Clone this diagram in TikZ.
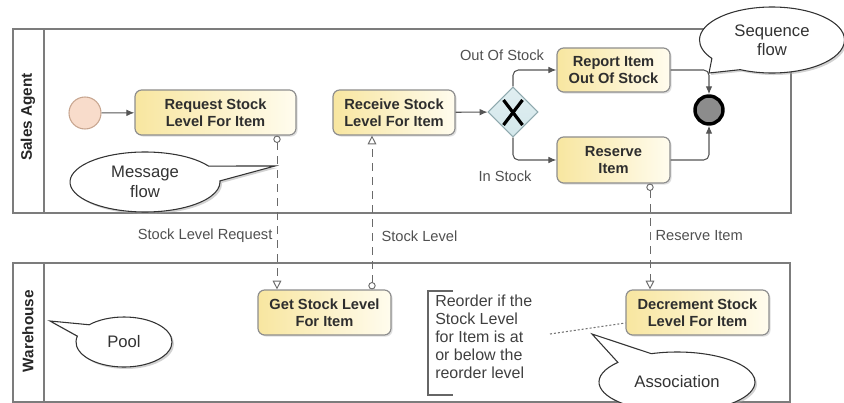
\documentclass[tikz,border=0pt]{standalone}
\usepackage{fontspec}
\setmainfont{Liberation Sans}
\usetikzlibrary{arrows.meta,shapes.geometric,shapes.callouts,shadows,calc}

\definecolor{poolline}{HTML}{7C7C7C}
\definecolor{taskline}{HTML}{8E8E8E}
\definecolor{taskyel}{HTML}{F8E6A0}
\definecolor{taskwht}{HTML}{FFFCEE}
\definecolor{flowgray}{HTML}{555555}
\definecolor{msggray}{HTML}{6A6A6A}
\definecolor{labelgray}{HTML}{505050}
\definecolor{startfill}{HTML}{F8DCCB}
\definecolor{startline}{HTML}{C8A690}
\definecolor{gwfill}{HTML}{D3E7EB}
\definecolor{gwline}{HTML}{8FA9AE}
\definecolor{endfill}{HTML}{8C8C8C}

\tikzset{
  sz/.style 2 args={minimum width=#1*0.75pt, minimum height=#2*0.75pt},
  pool/.style={draw=poolline, line width=1.6pt},
  poollabel/.style={rotate=90, font=\fontsize{11.5}{13}\selectfont\bfseries, text=black!85},
  task/.style={draw=taskline, line width=0.9pt, rounded corners=5pt,
    left color=taskyel, right color=taskwht, align=center, inner sep=2pt,
    font=\fontsize{11}{12.75}\selectfont\bfseries, text=black!82,
    drop shadow={shadow xshift=1.2pt, shadow yshift=-1.2pt, fill=black!25}},
  seqflow/.style={draw=flowgray, line width=0.8pt, rounded corners=4pt,
    -{Latex[length=6pt,width=5pt]}},
  msgflow/.style={draw=msggray, line width=0.6pt, dash pattern=on 6pt off 4.5pt,
    {Circle[open,length=5.5pt,width=5.5pt,fill=white,line width=0.7pt]}-{Triangle[open,length=6.5pt,width=6.5pt,fill=white,line width=0.7pt]}},
  flowlabel/.style={font=\fontsize{11}{13}\selectfont, text=labelgray, inner sep=1pt},
  bubble/.style={ellipse callout, draw=black!80, line width=0.8pt, fill=white,
    callout pointer arc=30, align=center, inner sep=0pt,
    font=\fontsize{12.5}{14.5}\selectfont, text=black!80,
    drop shadow={shadow xshift=1.5pt, shadow yshift=-1.5pt, fill=black!35}},
}

\begin{document}
\begin{tikzpicture}[x=0.75pt, y=-0.75pt]
\useasboundingbox (0,0) rectangle (844,403);

% ---- pools ----
\draw[pool] (13,29) rectangle (791,213);
\draw[pool] (44,29) -- (44,213);
\node[poollabel] (salesagent) at (28,117) {Sales Agent};

\draw[pool] (13,263) rectangle (790,402);
\draw[pool] (44,263) -- (44,402);
\node[poollabel] (warehouse) at (28,331) {Warehouse};

% ---- Sales Agent process ----
\node[circle, draw=startline, line width=0.8pt, fill=startfill, minimum size=24pt, inner sep=0pt]
  (start) at (85,113) {};
\node[task, sz={161}{45}] (req) at (215.5,112.5) {Request Stock\\Level For Item};
\node[task, sz={122}{45}] (rec) at (394,112.5) {Receive Stock\\Level For Item};
\node[diamond, draw=gwline, line width=0.8pt, inner sep=0pt, sz={50}{50},
  top color=gwfill!70!white, bottom color=gwfill] (gw) at (513,112) {};
\draw[line width=2.4pt, black] (503.5,100) -- (522.5,125) (522.5,100) -- (503.5,125);
\node[task, sz={113}{44}] (report) at (613.5,70) {Report Item\\Out Of Stock};
\node[task, sz={113}{46}] (reserve) at (613.5,160) {Reserve\\Item};
\node[circle, draw=black, line width=2.6pt, fill=endfill, minimum size=21pt, inner sep=0pt]
  (end) at (709,110) {};

\draw[seqflow] (start) -- (req);
\draw[seqflow] (rec) -- (gw);
\draw[seqflow] (gw.north) |- (report.west);
\draw[seqflow] (gw.south) |- (reserve.west);
\draw[seqflow] (report.east) -| (end.north);
\draw[seqflow] (reserve.east) -| (end.south);

\node[flowlabel, anchor=south] (outlbl) at (502,62) {Out Of Stock};
\node[flowlabel, anchor=north] (inlbl) at (505,169) {In Stock};

% ---- Warehouse process ----
\node[task, sz={133}{45}] (get) at (324.5,312.5) {Get Stock Level\\For Item};
\node[task, sz={143}{45}] (dec) at (697.5,312.5) {Decrement Stock\\Level For Item};

% ---- message flows ----
\coordinate (m1) at (277,0);
\coordinate (m2) at (372,0);
\coordinate (m3) at (650,0);
\draw[msgflow] (req.south -| m1) -- (get.north -| m1);
\draw[msgflow] (get.north -| m2) -- (rec.south -| m2);
\draw[msgflow] (reserve.south -| m3) -- (dec.north -| m3);

\node[flowlabel, anchor=east] (lblreq) at (274,236) {Stock Level Request};
\node[flowlabel, anchor=west] (lbllevel) at (380,236) {Stock Level};
\node[flowlabel, anchor=west] (lblres) at (654,236) {Reserve Item};

% ---- text annotation and association ----
\draw[draw=black!60, line width=0.8pt] (453,291) -| (428,395) -- (453,395);
\node[anchor=north west, align=left, inner sep=0pt,
  font=\fontsize{12}{13.5}\selectfont, text=black!75] (note) at (435,295)
  {Reorder if the\\Stock Level\\for Item is at\\or below the\\reorder level};
\coordinate (a1) at (550,334);
\coordinate (a2) at (0,323);
\draw[draw=black!55, line width=0.8pt, dash pattern=on 1.5pt off 1.5pt] (a1) -- (dec.west |- a2);

% ---- callouts ----
\node[bubble, sz={150}{60}, callout absolute pointer={(275,166)}] (cmsg) at (145,182) {Message\\flow};
\node[bubble, sz={145}{66}, callout absolute pointer={(709,73)}] (cseq) at (772,40) {Sequence\\flow};
\node[bubble, sz={96}{50}, callout absolute pointer={(50,321)}] (cpool) at (124,342) {Pool};
\node[bubble, sz={156}{60}, callout absolute pointer={(592,334)}] (cassoc) at (677,382) {Association};
\end{tikzpicture}
\end{document}
